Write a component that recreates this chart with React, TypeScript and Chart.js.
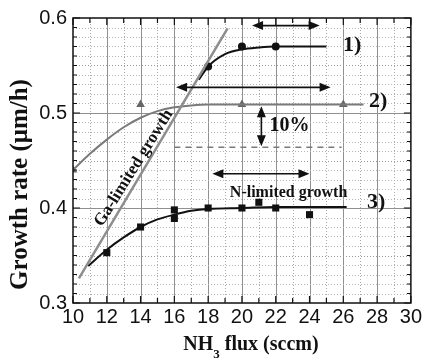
import React, { useEffect, useRef } from 'react';
import { Chart, registerables } from 'chart.js';

Chart.register(...registerables);

// ---- data ----
const xTickLabels = [10, 12, 14, 16, 18, 20, 22, 24, 26, 28, 30];
const yTickLabels = [0.3, 0.4, 0.5, 0.6];

// 1) circles + saturating curve
const s1X = [18, 20, 22];
const s1Y = [0.549, 0.57, 0.57];
const c1X = [17.45, 18, 19, 20, 21, 22, 23, 24, 25];
const c1Y = [0.535, 0.549, 0.562, 0.567, 0.569, 0.57, 0.57, 0.57, 0.57];

// 2) triangles + gray curve
const s2X = [10, 14, 20, 26];
const s2Y = [0.44, 0.509, 0.509, 0.509];
const c2X = [10, 11, 12, 13, 14, 15, 16, 17, 18, 20, 22, 24, 26, 27.2];
const c2Y = [0.44, 0.457, 0.472, 0.485, 0.495, 0.502, 0.506, 0.508, 0.509, 0.509, 0.509, 0.509, 0.509, 0.509];

// 3) squares + curve
const s3X = [12, 14, 16, 16, 18, 20, 21, 22, 24];
const s3Y = [0.353, 0.38, 0.398, 0.389, 0.4, 0.4, 0.406, 0.4, 0.393];
const c3X = [10.9, 12, 13, 14, 15, 16, 17, 18, 20, 22, 24, 26.2];
const c3Y = [0.339, 0.356, 0.369, 0.38, 0.388, 0.393, 0.397, 0.399, 0.4, 0.401, 0.401, 0.401];

// Ga-limited straight line
const gaX = [10.35, 19.15];
const gaY = [0.326, 0.589];

// dashed reference line
const dashX = [16, 25.9];
const dashY = [0.464, 0.464];

// double arrows [x1, y1, x2, y2]
const arrows = [
  [20.6, 0.592, 24.6, 0.592],
  [16.1, 0.527, 25.25, 0.527],
  [21.15, 0.507, 21.15, 0.465],
  [18.25, 0.436, 24.0, 0.436],
];

// annotations: text, x, y
const labelTexts = ['1)', '2)', '3)', '10%', 'N-limited growth', 'Ga-limited growth'];
const labelX = [26.53, 28.06, 27.94, 22.82, 22.76, 13.6];
const labelY = [0.5713, 0.5122, 0.4056, 0.486, 0.416, 0.442];

const xTitleMain = 'NH';
const xTitleSub = '3';
const xTitleRest = ' flux (sccm)';
const yTitle = 'Growth rate (\u03bcm/h)';

const pts = (xs: number[], ys: number[]) => xs.map((x, i) => ({ x, y: ys[i] }));

const SERIF = '"Liberation Serif", "Times New Roman", serif';
const SANS = '"Liberation Sans", Arial, sans-serif';

function drawArrowHead(ctx: CanvasRenderingContext2D, tx: number, ty: number, ang: number) {
  const L = 11, W = 4.5;
  ctx.beginPath();
  ctx.moveTo(tx, ty);
  ctx.lineTo(tx - L * Math.cos(ang) + W * Math.sin(ang), ty - L * Math.sin(ang) - W * Math.cos(ang));
  ctx.lineTo(tx - L * Math.cos(ang) - W * Math.sin(ang), ty - L * Math.sin(ang) + W * Math.cos(ang));
  ctx.closePath();
  ctx.fill();
}

const overlay = {
  id: 'overlay',
  beforeDatasetsDraw(chart: any) {
    const { ctx, chartArea: a, scales } = chart;
    const xs = scales.x, ys = scales.y;
    ctx.save();
    ctx.lineWidth = 1;
    for (let v = 11; v < 30; v++) {
      const px = Math.round(xs.getPixelForValue(v)) + 0.5;
      ctx.beginPath();
      if (v % 2 === 0) {
        ctx.setLineDash([]);
        ctx.strokeStyle = '#909090';
      } else {
        ctx.setLineDash([1, 2]);
        ctx.strokeStyle = '#a8a8a8';
      }
      ctx.moveTo(px, a.top);
      ctx.lineTo(px, a.bottom);
      ctx.stroke();
    }
    for (let i = 1; i < 30; i++) {
      const v = 0.3 + i * 0.01;
      const py = Math.round(ys.getPixelForValue(v)) + 0.5;
      ctx.beginPath();
      if (i % 10 === 0) {
        ctx.setLineDash([]);
        ctx.strokeStyle = '#909090';
      } else {
        ctx.setLineDash([1, 2]);
        ctx.strokeStyle = i % 5 === 0 ? '#999999' : '#b4b4b4';
      }
      ctx.moveTo(a.left, py);
      ctx.lineTo(a.right, py);
      ctx.stroke();
    }
    ctx.restore();
  },
  afterDatasetsDraw(chart: any) {
    const { ctx, chartArea: a, scales } = chart;
    const xs = scales.x, ys = scales.y;
    ctx.save();
    ctx.setLineDash([]);
    // frame
    ctx.strokeStyle = '#111';
    ctx.lineWidth = 1.5;
    ctx.strokeRect(a.left, a.top, a.right - a.left, a.bottom - a.top);
    // inward ticks
    ctx.lineWidth = 1.2;
    ctx.beginPath();
    for (let v = 10; v <= 30; v++) {
      const px = xs.getPixelForValue(v);
      const L = v % 2 === 0 ? 7 : 5;
      ctx.moveTo(px, a.bottom);
      ctx.lineTo(px, a.bottom - L);
      ctx.moveTo(px, a.top);
      ctx.lineTo(px, a.top + L);
    }
    for (let i = 0; i <= 30; i++) {
      const py = ys.getPixelForValue(0.3 + i * 0.01);
      const L = i % 10 === 0 ? 7 : 4;
      ctx.moveTo(a.left, py);
      ctx.lineTo(a.left + L, py);
      ctx.moveTo(a.right, py);
      ctx.lineTo(a.right - L, py);
    }
    ctx.stroke();

    // arrows
    ctx.fillStyle = '#111';
    ctx.lineWidth = 1.6;
    arrows.forEach(([x1, y1, x2, y2]) => {
      const p1x = xs.getPixelForValue(x1), p1y = ys.getPixelForValue(y1);
      const p2x = xs.getPixelForValue(x2), p2y = ys.getPixelForValue(y2);
      const ang = Math.atan2(p2y - p1y, p2x - p1x);
      ctx.beginPath();
      ctx.moveTo(p1x + 6 * Math.cos(ang), p1y + 6 * Math.sin(ang));
      ctx.lineTo(p2x - 6 * Math.cos(ang), p2y - 6 * Math.sin(ang));
      ctx.stroke();
      drawArrowHead(ctx, p2x, p2y, ang);
      drawArrowHead(ctx, p1x, p1y, ang + Math.PI);
    });

    // annotations
    ctx.fillStyle = '#111';
    ctx.textAlign = 'center';
    ctx.textBaseline = 'middle';
    labelTexts.forEach((t, i) => {
      const px = xs.getPixelForValue(labelX[i]);
      const py = ys.getPixelForValue(labelY[i]);
      let size = 22;
      if (t === '10%') size = 20;
      if (t.startsWith('N-')) size = 16;
      if (t.startsWith('Ga')) size = 17;
      ctx.font = `bold ${size}px ${SERIF}`;
      if (t.startsWith('Ga')) {
        ctx.save();
        ctx.translate(px, py);
        ctx.rotate((-58 * Math.PI) / 180);
        ctx.fillText(t, 0, 0);
        ctx.restore();
      } else {
        ctx.fillText(t, px, py);
      }
    });

    // y title
    ctx.save();
    ctx.font = `bold 25px ${SERIF}`;
    ctx.translate(21, (a.top + a.bottom) / 2 + 24);
    ctx.rotate(-Math.PI / 2);
    ctx.fillText(yTitle, 0, 0);
    ctx.restore();

    // x title with subscript
    const mainFont = `bold 20px ${SERIF}`;
    const subFont = `bold 13px ${SERIF}`;
    ctx.textAlign = 'left';
    ctx.textBaseline = 'alphabetic';
    ctx.font = mainFont;
    const w1 = ctx.measureText(xTitleMain).width;
    const w3 = ctx.measureText(xTitleRest).width;
    ctx.font = subFont;
    const w2 = ctx.measureText(xTitleSub).width;
    const cx = (a.left + a.right) / 2 + 9;
    let sx = cx - (w1 + w2 + w3) / 2;
    const base = 350;
    ctx.font = mainFont;
    ctx.fillText(xTitleMain, sx, base);
    sx += w1;
    ctx.font = subFont;
    ctx.fillText(xTitleSub, sx, base + 8);
    sx += w2;
    ctx.font = mainFont;
    ctx.fillText(xTitleRest, sx, base);
    ctx.restore();
  },
};

export default function App() {
  const ref = useRef<HTMLCanvasElement | null>(null);

  useEffect(() => {
    if (!ref.current) return;
    const black = '#111';
    const gray = '#7a7a7a';
    const chart = new Chart(ref.current, {
      type: 'scatter',
      data: {
        datasets: [
          {
            data: pts(gaX, gaY),
            showLine: true,
            borderColor: '#8e8e8e',
            borderWidth: 2.5,
            pointRadius: 0,
          },
          {
            data: pts(c2X, c2Y),
            showLine: true,
            borderColor: gray,
            borderWidth: 2,
            pointRadius: 0,
            cubicInterpolationMode: 'monotone',
          },
          {
            data: pts(s2X, s2Y),
            pointStyle: 'triangle',
            pointRadius: 5,
            backgroundColor: '#666666',
            borderColor: '#666666',
            borderWidth: 0,
          },
          {
            data: pts(dashX, dashY),
            showLine: true,
            borderColor: gray,
            borderWidth: 1.5,
            borderDash: [6, 5],
            pointRadius: 0,
          },
          {
            data: pts(c1X, c1Y),
            showLine: true,
            borderColor: black,
            borderWidth: 2,
            pointRadius: 0,
            cubicInterpolationMode: 'monotone',
          },
          {
            data: pts(s1X, s1Y),
            pointStyle: 'circle',
            pointRadius: 4,
            backgroundColor: black,
            borderColor: black,
            borderWidth: 0,
          },
          {
            data: pts(c3X, c3Y),
            showLine: true,
            borderColor: black,
            borderWidth: 2,
            pointRadius: 0,
            cubicInterpolationMode: 'monotone',
          },
          {
            data: pts(s3X, s3Y),
            pointStyle: 'rect',
            pointRadius: 5,
            backgroundColor: black,
            borderColor: black,
            borderWidth: 0,
          },
        ] as any,
      },
      options: {
        animation: false,
        responsive: false,
        maintainAspectRatio: false,
        layout: { padding: { top: 16, right: 11, left: 0, bottom: 0 } },
        plugins: {
          legend: { display: false },
          tooltip: { enabled: false },
          title: { display: false },
        },
        scales: {
          x: {
            type: 'linear',
            min: 10,
            max: 30,
            grid: { display: false, drawTicks: false },
            border: { display: false },
            afterFit: (s: any) => {
              s.height = 61;
            },
            ticks: {
              stepSize: 1,
              padding: 2,
              autoSkip: false,
              maxRotation: 0,
              color: '#111',
              font: { family: SANS, size: 20 },
              callback: (v: any) => (xTickLabels.includes(Number(v)) ? String(v) : ''),
            },
          },
          y: {
            type: 'linear',
            min: 0.3,
            max: 0.6,
            grid: { display: false, drawTicks: false },
            border: { display: false },
            afterFit: (s: any) => {
              s.width = 73;
            },
            ticks: {
              stepSize: 0.1,
              padding: 6,
              autoSkip: false,
              color: '#111',
              font: { family: SANS, size: 20 },
              callback: (v: any) => {
                const n = Number(v);
                const hit = yTickLabels.find((t) => Math.abs(t - n) < 1e-6);
                return hit !== undefined ? hit.toFixed(1) : '';
              },
            },
          },
        },
      } as any,
      plugins: [overlay],
    });
    return () => chart.destroy();
  }, []);

  return (
    <div style={{ position: 'fixed', left: 0, top: 0, width: 424, height: 364, background: '#fff' }}>
      <canvas ref={ref} width={424} height={364} style={{ width: 424, height: 364, display: 'block' }} />
    </div>
  );
}
